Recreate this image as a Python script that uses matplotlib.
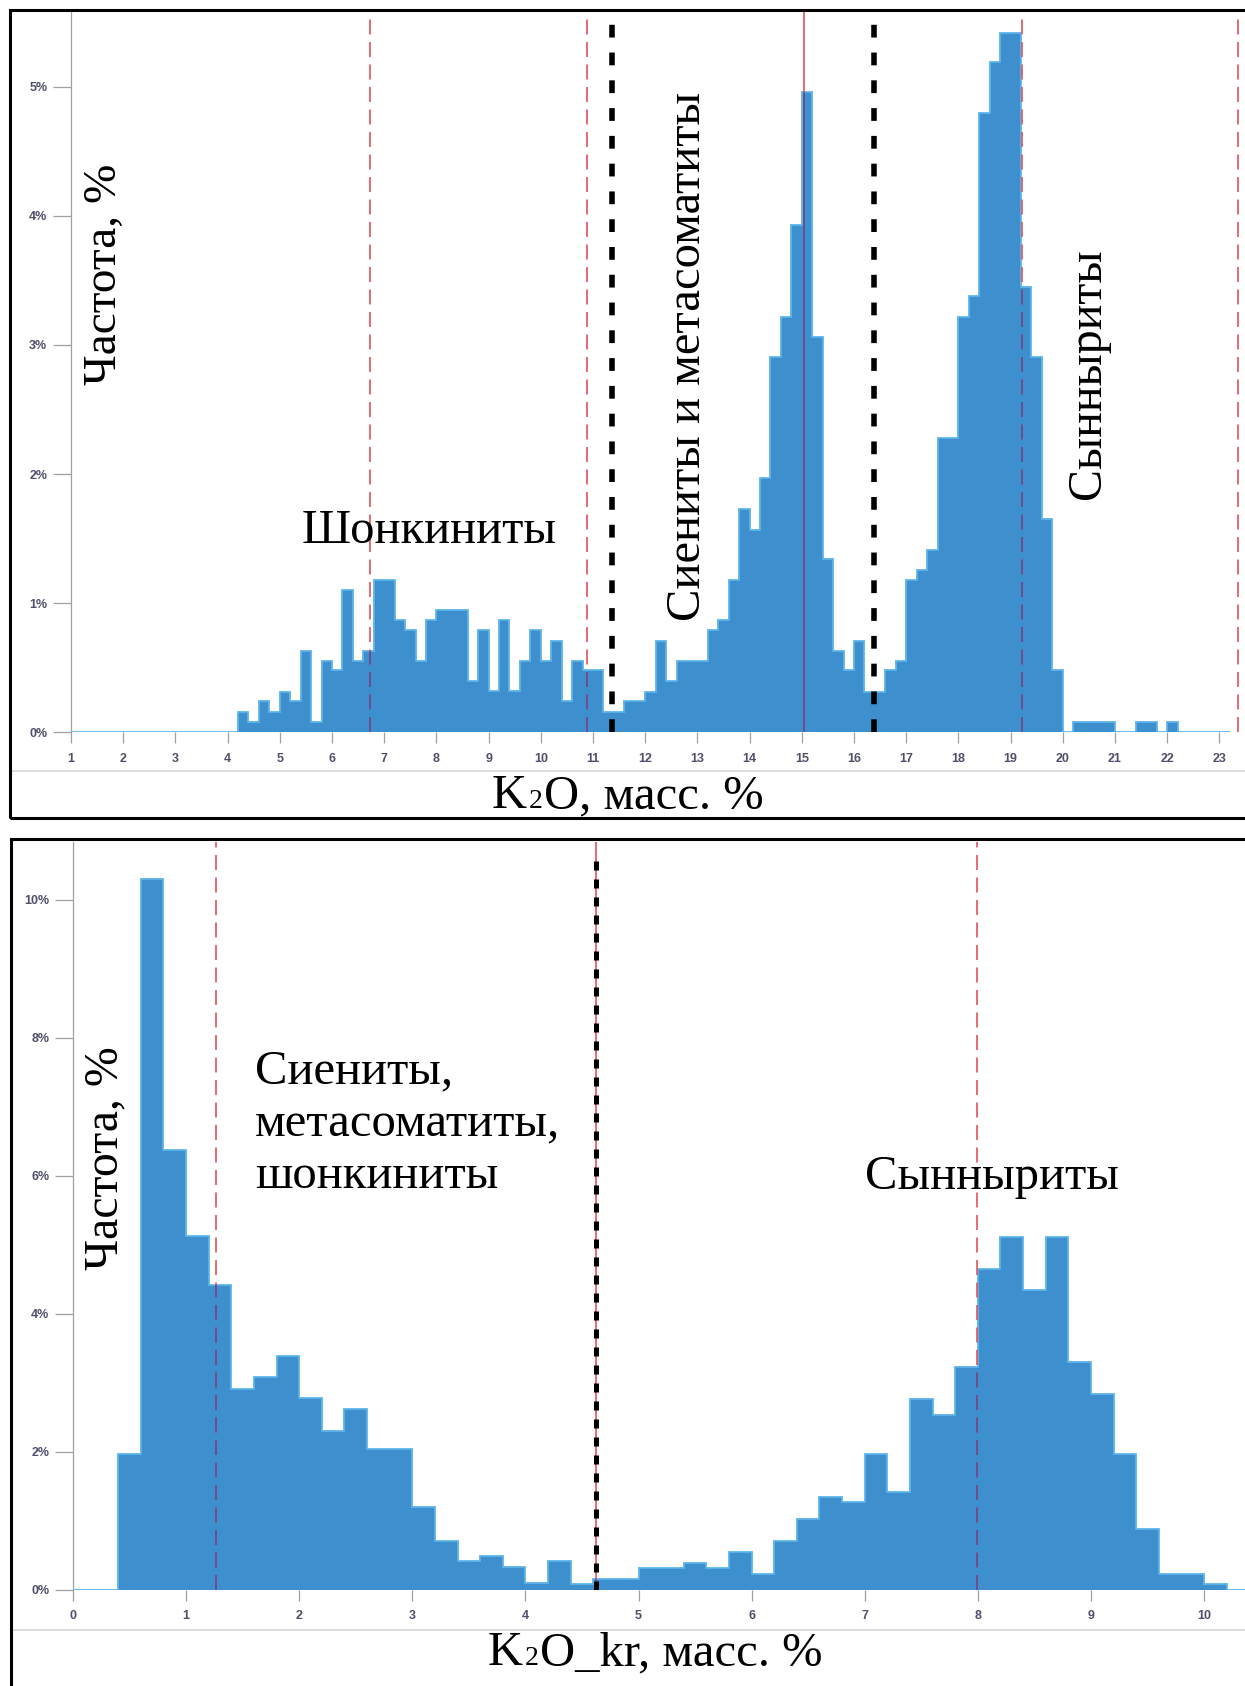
import numpy as np
import matplotlib
matplotlib.use('Agg')
import matplotlib.pyplot as plt
from matplotlib.patches import Rectangle
from matplotlib.lines import Line2D

W, H = 1245, 1686

# верхняя гистограмма: K2O, шаг 0.2 от 1.0
k2o_start, k2o_step = 1.0, 0.2
k2o_freq = [0] * 16 + [
    0.16, 0.08, 0.24, 0.16, 0.31, 0.24, 0.63, 0.08, 0.55, 0.48,
    1.10, 0.55, 0.63, 1.18, 1.18, 0.87, 0.79, 0.55, 0.87, 0.95,
    0.95, 0.95, 0.40, 0.79, 0.32, 0.87, 0.32, 0.55, 0.79, 0.55,
    0.71, 0.24, 0.55, 0.48, 0.48, 0.16, 0.16, 0.24, 0.24, 0.31,
    0.71, 0.40, 0.55, 0.55, 0.55, 0.79, 0.87, 1.18, 1.73, 1.57,
    1.97, 2.91, 3.22, 3.93, 4.96, 3.06, 1.34, 0.63, 0.48, 0.71,
    0.31, 0.31, 0.48, 0.55, 1.18, 1.26, 1.41, 2.28, 2.28, 3.22,
    3.38, 4.80, 5.19, 5.42, 5.42, 3.45, 2.91, 1.65, 0.48,
    0, 0.08, 0.08, 0.08, 0.08, 0, 0, 0.08, 0.08, 0, 0.08, 0, 0, 0, 0, 0]
k2o_red_dashed = [6.72, 10.88, 19.21, 23.35]
k2o_red_solid = [15.04]
k2o_bounds = [11.37, 16.38]
k2o_xticks = list(range(1, 24))
k2o_yticks = [0, 1, 2, 3, 4, 5]

# нижняя гистограмма: K2O_kr, шаг 0.2 от 0
kr_start, kr_step = 0.0, 0.2
kr_freq = [
    0, 0, 1.97, 10.3, 6.37, 5.12, 4.41, 2.91, 3.08, 3.39,
    2.77, 2.29, 2.61, 2.04, 2.04, 1.20, 0.70, 0.41, 0.49, 0.33,
    0.09, 0.41, 0.08, 0.15, 0.15, 0.31, 0.31, 0.39, 0.31, 0.55,
    0.23, 0.70, 1.02, 1.34, 1.27, 1.97, 1.42, 2.76, 2.53, 3.23,
    4.64, 5.11, 4.34, 5.11, 3.30, 2.83, 1.97, 0.87, 0.23, 0.23,
    0.08, 0]
kr_red_dashed = [1.26, 7.99]
kr_red_solid = [4.62]
kr_bounds = [4.62]
kr_xticks = list(range(0, 11))
kr_yticks = [0, 2, 4, 6, 8, 10]

serif = ['Liberation Serif', 'DejaVu Serif']
tickfont = dict(family=['Liberation Sans', 'DejaVu Sans'], weight='bold', size=9)
BAR = '#3d8fce'
EDGE = '#5db4ea'
RED = '#e2535c'
PURPLE = '#5a4a98'


def fx(px):
    return px / W


def fy(py):
    return 1 - py / H


def hist(ax, start, step, freq, dashed, solid, bounds, xt, yt, dots):
    freq = np.asarray(freq, dtype=float)
    edges = start + step * np.arange(len(freq) + 1)
    fill = ax.stairs(freq, edges, fill=True, color=BAR, lw=0, zorder=2)
    ax.stairs(freq, edges, color=EDGE, lw=1.3, zorder=3)

    for xs, ls in ((dashed, (0, (9, 4.5))), (solid, '-')):
        for x in xs:
            ax.axvline(x, color=RED, lw=1.2, ls=ls, zorder=4)
            ln = ax.axvline(x, color=PURPLE, lw=1.2, ls=ls, zorder=5)
            ln.set_clip_path(fill)

    for x in bounds:
        ax.axvline(x, ymin=0, ymax=0.985, color='black', lw=dots[0],
                   ls=(0, dots[1]), zorder=6)

    ax.set_xticks(xt)
    ax.set_yticks(yt)
    ax.set_yticklabels([f'{v}%' for v in yt], **tickfont, color='#4f4f6b')
    ax.set_xticklabels([str(v) for v in xt], **tickfont, color='#4f4f6b')
    ax.tick_params(axis='y', direction='out', length=13, width=0.9,
                   color='#a0a0a0', pad=4)
    ax.tick_params(axis='x', direction='out', length=8, width=0.9,
                   color='#a0a0a0', pad=7)
    for s in ('top', 'right', 'bottom'):
        ax.spines[s].set_visible(False)
    ax.spines['left'].set_color('#a0a0a0')
    ax.spines['left'].set_linewidth(0.9)
    ax.set_facecolor('none')


def xlabel(ax, x, y, tail):
    t = ax.figure.text(fx(x), fy(y), 'K', family=serif, fontsize=35,
                       va='baseline', ha='left')
    t2 = ax.annotate('2', xy=(1, 0), xycoords=t, xytext=(1, 3),
                     textcoords='offset points', family=serif, fontsize=20,
                     va='bottom', ha='left')
    ax.annotate(tail, xy=(1, 0), xycoords=t2, xytext=(1, -3),
                textcoords='offset points', family=serif, fontsize=35,
                va='bottom', ha='left')


fig = plt.figure(figsize=(W / 100, H / 100), dpi=100)

# верхняя панель
ax1 = fig.add_axes([fx(71), fy(732.3), 1 - fx(71), (732.3 - 10) / H])
hist(ax1, k2o_start, k2o_step, k2o_freq, k2o_red_dashed, k2o_red_solid,
     k2o_bounds, k2o_xticks, k2o_yticks, (4, (2.3, 2.7)))
ax1.set_xlim(1, 1 + (W - 71) / 52.2)
ax1.set_ylim(0, (732.3 - 10) / 129.1)

# нижняя панель
ax2 = fig.add_axes([fx(73), fy(1589.5), 1 - fx(73), (1589.5 - 842) / H])
hist(ax2, kr_start, kr_step, kr_freq, kr_red_dashed, kr_red_solid,
     kr_bounds, kr_xticks, kr_yticks, (3.6, (1.8, 1.8)))
ax2.set_xlim(0, (W - 73) / 113.1)
ax2.set_ylim(0, (1589.5 - 842) / 69)

# рамки и разделители
fig.add_artist(Rectangle((fx(10), fy(818)), 1.2, (818 - 10) / H,
                         transform=fig.transFigure, fill=False, lw=2.2,
                         ec='black', zorder=10))
fig.add_artist(Rectangle((fx(11), fy(1700)), 1.2, (1700 - 839) / H,
                         transform=fig.transFigure, fill=False, lw=2.2,
                         ec='black', zorder=10))
fig.add_artist(Line2D([fx(12), 1], [fy(771), fy(771)], color='#d6d6d6', lw=1.2))
fig.add_artist(Line2D([fx(13), 1], [fy(1630), fy(1630)], color='#d6d6d6', lw=1.2))

# подписи
fig.text(fx(105), fy(274), 'Частота, %', family=serif, fontsize=34,
         rotation=90, ha='center', va='center')
fig.text(fx(429), fy(543), 'Шонкиниты', family=serif, fontsize=35,
         ha='center', va='baseline')
fig.text(fx(688), fy(356), 'Сиениты и метасоматиты', family=serif,
         fontsize=35, rotation=90, ha='center', va='center')
fig.text(fx(1088), fy(374), 'Сынныриты', family=serif, fontsize=34.5,
         rotation=90, ha='center', va='center')
xlabel(ax1, 492, 808, 'O, масс. %')

fig.text(fx(105), fy(1158), 'Частота, %', family=serif, fontsize=34.5,
         rotation=90, ha='center', va='center')
for line, base in (('Сиениты,', 1083), ('метасоматиты,', 1136), ('шонкиниты', 1188)):
    fig.text(fx(255), fy(base), line, family=serif, fontsize=35,
             ha='left', va='baseline')
fig.text(fx(865), fy(1189), 'Сынныриты', family=serif, fontsize=35,
         ha='left', va='baseline')
xlabel(ax2, 488, 1665, 'O_kr, масс. %')

fig.savefig('out.png', dpi=100, facecolor='white')
